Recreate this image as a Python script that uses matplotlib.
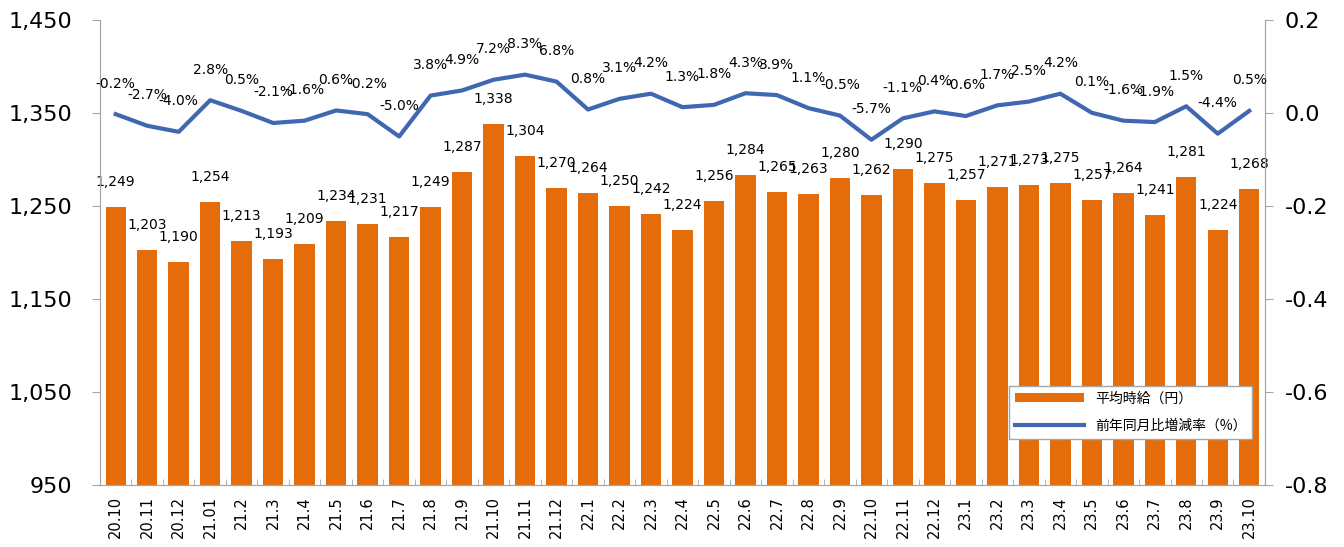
import numpy as np
import matplotlib
matplotlib.use("Agg")
import matplotlib.pyplot as plt

plt.rcParams['font.family'] = ['DejaVu Sans', 'Noto Sans CJK JP']

months = ["20.10", "20.11", "20.12", "21.01", "21.2", "21.3", "21.4", "21.5", "21.6",
          "21.7", "21.8", "21.9", "21.10", "21.11", "21.12", "22.1", "22.2", "22.3",
          "22.4", "22.5", "22.6", "22.7", "22.8", "22.9", "22.10", "22.11", "22.12",
          "23.1", "23.2", "23.3", "23.4", "23.5", "23.6", "23.7", "23.8", "23.9", "23.10"]
wage = [1249, 1203, 1190, 1254, 1213, 1193, 1209, 1234, 1231, 1217, 1249, 1287, 1338,
        1304, 1270, 1264, 1250, 1242, 1224, 1256, 1284, 1265, 1263, 1280, 1262, 1290,
        1275, 1257, 1271, 1273, 1275, 1257, 1264, 1241, 1281, 1224, 1268]
yoy_pct = [-0.2, -2.7, -4.0, 2.8, 0.5, -2.1, -1.6, 0.6, -0.2, -5.0, 3.8, 4.9, 7.2, 8.3,
           6.8, 0.8, 3.1, 4.2, 1.3, 1.8, 4.3, 3.9, 1.1, -0.5, -5.7, -1.1, 0.4, -0.6, 1.7,
           2.5, 4.2, 0.1, -1.6, -1.9, 1.5, -4.4, 0.5]

orange = '#E46C0A'
blue = '#4068B2'
grey = '#A6A6A6'

x = np.arange(len(months))
fig = plt.figure(figsize=(13.44, 5.47), dpi=100)
ax = fig.add_axes([0.0744, 0.113, 0.8668, 0.85])
ax2 = ax.twinx()

bars = ax.bar(x, wage, width=0.65, color=orange, label='平均時給（円）')
for xi, v in zip(x, wage):
    ax.annotate(f"{v:,}", (xi, v), xytext=(0, 18), textcoords='offset points',
                ha='center', va='center', fontsize=10)

ax.set_ylim(950, 1450)
ax.set_yticks([950, 1050, 1150, 1250, 1350, 1450])
ax.yaxis.set_major_formatter(matplotlib.ticker.FuncFormatter(lambda v, p: f"{int(v):,}"))
ax.set_xlim(-0.5, len(months) - 0.5)
ax.set_xticks(x)
ax.set_xticklabels(months, rotation=90, fontsize=10.5)
ax.set_xticks(np.arange(len(months) + 1) - 0.5, minor=True)
ax.tick_params(axis='x', which='major', length=0, pad=8)
ax.tick_params(axis='x', which='minor', length=4, direction='in', color=grey)
ax.tick_params(axis='y', labelsize=16, length=6, color=grey, pad=14)

vals = np.array(yoy_pct) / 100
line, = ax2.plot(x, vals, color=blue, lw=3, label='前年同月比増減率（%）')
for xi, v, p in zip(x, vals, yoy_pct):
    ax2.annotate(f"{p:.1f}%", (xi, v), xytext=(0, 22), textcoords='offset points',
                 ha='center', va='center', fontsize=10)
ax2.set_ylim(-0.8, 0.2)
ax2.set_yticks([-0.8, -0.6, -0.4, -0.2, 0.0, 0.2])
ax2.yaxis.set_major_formatter(matplotlib.ticker.FormatStrFormatter('%.1f'))
ax2.tick_params(axis='y', labelsize=16, length=6, color=grey, pad=8)

for a in (ax, ax2):
    a.spines['top'].set_visible(False)
    for s in ('left', 'right', 'bottom'):
        a.spines[s].set_color(grey)

leg = ax2.legend([bars, line], ['平均時給（円）', '前年同月比増減率（%）'],
                 loc='lower right', bbox_to_anchor=(0.995, 0.085),
                 prop={'family': ['Noto Sans CJK JP'], 'size': 10},
                 fancybox=False, edgecolor=grey, framealpha=1,
                 handlelength=5, labelspacing=1.0)

fig.savefig('out.png', dpi=100)
